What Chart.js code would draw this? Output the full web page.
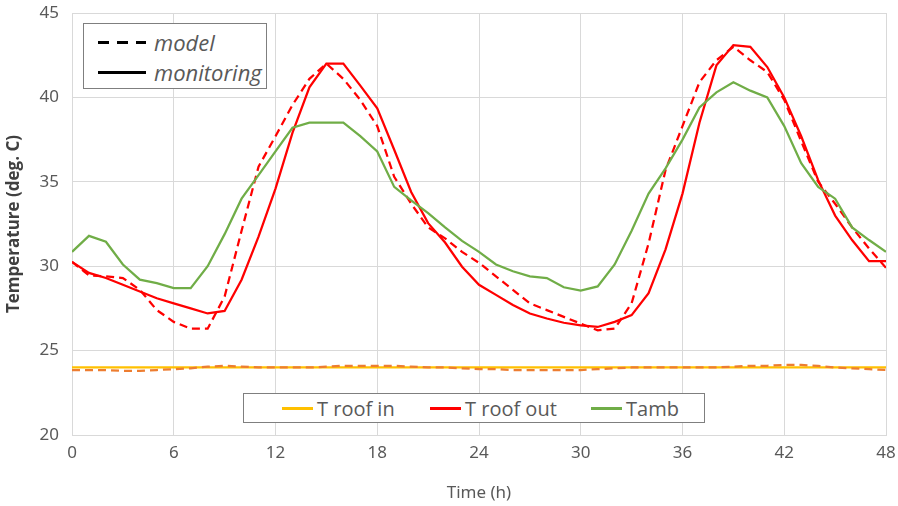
<!DOCTYPE html>
<html>
<head>
<meta charset="utf-8">
<script src="https://cdn.jsdelivr.net/npm/chart.js@4/dist/chart.umd.min.js"></script>
<style>
  html, body { margin: 0; padding: 0; background: #fff; }
  #wrap { position: relative; width: 898px; height: 506px; }
  .legend { position: absolute; border: 1.5px solid #7f7f7f; background: #fff; box-sizing: border-box; color: #595959; }
  .row { position: absolute; display: flex; align-items: center; white-space: nowrap; }
  .swatch { display: inline-block; width: 48px; height: 3px; margin-right: 8px; }
  .dashed { background: repeating-linear-gradient(to right, #000 0 11px, transparent 11px 19px); }
  .solid { background: #000; }
  .item { display: inline-flex; align-items: center; position: absolute; top: 0; height: 100%; white-space: nowrap; }
  .item .sw { display: inline-block; width: 31px; height: 0; border-top: 3px solid; margin-right: 4px; }
</style>
</head>
<body>
<div id="wrap">
  <canvas id="temp-chart" width="898" height="506"></canvas>

  <div class="legend" style="left:83px; top:23px; width:184px; height:66px; font: italic 22px 'Open Sans', sans-serif;">
    <div class="row" style="left:14px; top:3px; height:30px;">
      <span class="swatch dashed"></span>model
    </div>
    <div class="row" style="left:14px; top:33px; height:30px;">
      <span class="swatch solid"></span>monitoring
    </div>
  </div>

  <div class="legend" style="left:243px; top:393px; width:462px; height:30px; font: 20px 'Open Sans', sans-serif;">
    <span class="item" style="left:38px;"><span class="sw" style="border-color:#FFC000;"></span>T roof in</span>
    <span class="item" style="left:186px;"><span class="sw" style="border-color:#FF0000;"></span>T roof out</span>
    <span class="item" style="left:347px;"><span class="sw" style="border-color:#70AD47;"></span>Tamb</span>
  </div>
</div>

<script>
// hours 0..48
const hours = [0,1,2,3,4,5,6,7,8,9,10,11,12,13,14,15,16,17,18,19,20,21,22,23,24,
  25,26,27,28,29,30,31,32,33,34,35,36,37,38,39,40,41,42,43,44,45,46,47,48];

const tAmb = [30.85,31.8,31.45,30.1,29.2,29.0,28.7,28.7,30.0,31.9,34.0,35.4,36.8,38.2,38.5,38.5,38.5,37.7,36.8,34.7,33.9,33.15,32.3,31.5,30.85,
  30.1,29.7,29.4,29.3,28.75,28.55,28.8,30.1,32.1,34.3,35.8,37.5,39.4,40.3,40.9,40.4,40.0,38.3,36.1,34.7,34.0,32.3,31.55,30.85];

const tRoofOutMon = [30.25,29.6,29.3,28.9,28.5,28.1,27.8,27.5,27.2,27.35,29.2,31.75,34.6,37.9,40.6,42.0,42.0,40.7,39.35,36.9,34.4,32.55,31.4,29.97,28.9,
  28.3,27.7,27.2,26.9,26.65,26.5,26.4,26.7,27.1,28.4,31.0,34.3,38.5,41.9,43.1,43.0,41.8,40.0,37.7,35.1,33.0,31.55,30.3,30.3];

const tRoofOutModel = [30.26,29.45,29.4,29.3,28.6,27.4,26.7,26.3,26.3,28.2,32.1,35.9,37.7,39.55,41.1,42.0,41.1,39.85,38.3,35.3,33.7,32.3,31.65,30.85,30.2,
  29.4,28.6,27.8,27.4,27.0,26.6,26.2,26.3,27.8,31.35,35.7,38.3,40.9,42.2,43.0,42.2,41.5,39.85,37.4,35.0,33.7,32.3,31.05,29.9];

const tRoofInMon = [24.0,24.0,24.0,24.0,24.0,24.0,24.0,24.0,24.0,24.0,24.0,24.0,24.0,24.0,24.0,24.0,24.0,24.0,24.0,24.0,24.0,24.0,24.0,24.0,24.0,
  24.0,24.0,24.0,24.0,24.0,24.0,24.0,24.0,24.0,24.0,24.0,24.0,24.0,24.0,24.0,24.0,24.0,24.0,24.0,24.0,24.0,24.0,24.0,24.0];

const tRoofInModel = [23.85,23.85,23.85,23.8,23.8,23.85,23.9,23.95,24.05,24.1,24.05,24.0,24.0,24.0,24.0,24.05,24.1,24.1,24.1,24.1,24.05,24.0,24.0,23.95,23.9,
  23.9,23.85,23.85,23.85,23.85,23.85,23.9,23.95,24.0,24.0,24.0,24.0,24.0,24.0,24.05,24.1,24.1,24.15,24.15,24.1,24.0,23.95,23.9,23.85];

const xTicks = [0, 6, 12, 18, 24, 30, 36, 42, 48];
const yTicks = [20, 25, 30, 35, 40, 45];

const toPoints = (vals) => vals.map((v, i) => ({ x: hours[i], y: v }));

const lineSet = (label, vals, color, dash) => ({
  label,
  data: toPoints(vals),
  borderColor: color,
  backgroundColor: color,
  borderWidth: 2.25,
  borderDash: dash || [],
  pointRadius: 0,
  tension: 0,
  fill: false,
});

const tickFont = "'Noto Sans'";

const ctx = document.getElementById("temp-chart");
new Chart(ctx, {
  type: "line",
  data: {
    datasets: [
      lineSet("T roof in model", tRoofInModel, "#ED7D31", [8, 5]),
      lineSet("T roof in", tRoofInMon, "#FFC000"),
      lineSet("Tamb", tAmb, "#70AD47"),
      lineSet("T roof out model", tRoofOutModel, "#FF0000", [8, 5]),
      lineSet("T roof out", tRoofOutMon, "#FF0000"),
    ],
  },
  options: {
    responsive: false,
    animation: false,
    layout: { padding: { left: 0, right: 12, top: 13, bottom: 0 } },
    plugins: { legend: { display: false }, tooltip: { enabled: false } },
    scales: {
      x: {
        type: "linear",
        min: 0,
        max: 48,
        afterBuildTicks: (s) => { s.ticks = xTicks.map((v) => ({ value: v })); },
        afterFit: (s) => { s.height = 71; s.paddingLeft = 0; s.paddingRight = 0; },
        grid: { color: "#d9d9d9", drawTicks: false },
        border: { color: "#d9d9d9" },
        ticks: { color: "#595959", padding: 8, font: { family: tickFont, size: 17 } },
        title: { display: true, text: "Time (h)", color: "#595959", padding: { top: 4, bottom: 3 }, font: { family: tickFont, size: 17 } },
      },
      y: {
        min: 20,
        max: 45,
        afterBuildTicks: (s) => { s.ticks = yTicks.map((v) => ({ value: v })); },
        afterFit: (s) => { s.width = 72; s.paddingTop = 0; s.paddingBottom = 0; },
        grid: { color: "#d9d9d9", drawTicks: false },
        border: { color: "#d9d9d9" },
        ticks: { color: "#595959", padding: 13, font: { family: tickFont, size: 17 } },
        title: { display: true, text: "Temperature (deg. C)", color: "#404040", padding: { top: 4, bottom: 4 }, font: { family: "'Open Sans'", size: 17, weight: "bold" } },
      },
    },
  },
});
</script>
</body>
</html>
